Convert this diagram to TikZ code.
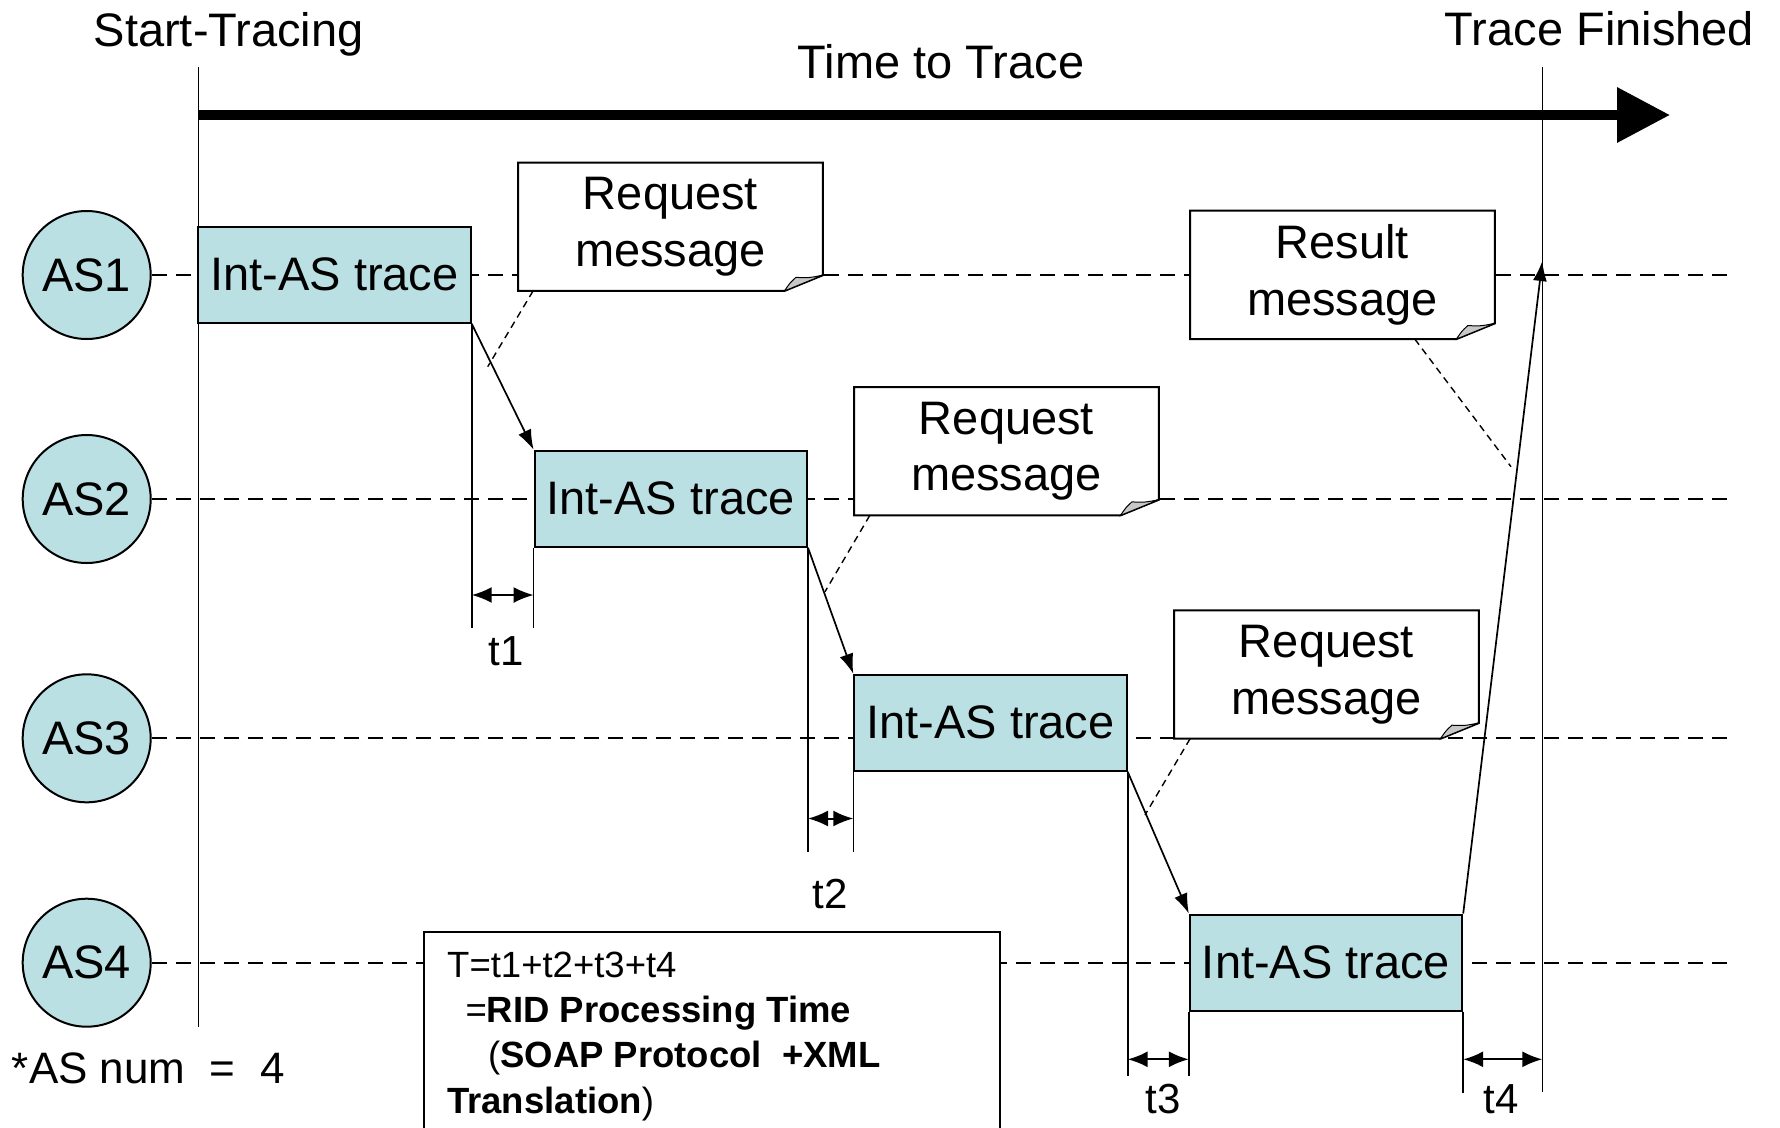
\documentclass[tikz,border=0pt]{standalone}
\usepackage{fontspec}
\setmainfont{Liberation Sans}
\usetikzlibrary{arrows.meta,calc}
\definecolor{asfill}{RGB}{187,224,227}
\definecolor{foldgray}{RGB}{200,200,200}
\pgfdeclarelayer{lanes}
\pgfdeclarelayer{shapes}
\pgfsetlayers{lanes,shapes,main}

% white message box with a turned-down lower right corner
\newcommand{\msgoutline}[1]{%
  \draw[msgedge] (#1.north west) -- (#1.north east) -- ($(#1.south east)+(0,-15.7)$)
    -- ($(#1.south east)+(-38.4,0)$) -- (#1.south west) -- cycle;
  \draw[line width=1pt,fill=foldgray] ($(#1.south east)+(-38.4,0)$)
    .. controls ($(#1.south east)+(-33,-8)$) .. ($(#1.south east)+(-27,-13.5)$)
    .. controls ($(#1.south east)+(-14,-13)$) .. ($(#1.south east)+(0,-15.7)$) -- cycle;
}

\begin{document}
\begin{tikzpicture}[x=1pt,y=-1pt,
  bigfont/.style={font=\fontsize{47}{56.5}\selectfont},
  asnode/.style={circle,draw,line width=2pt,fill=asfill,minimum size=128pt,inner sep=0pt,bigfont},
  tracebox/.style={rectangle,draw,line width=2pt,fill=asfill,minimum width=272.4pt,minimum height=96pt,inner sep=0pt,bigfont},
  msgtext/.style={rectangle,minimum width=304.4pt,minimum height=128pt,inner sep=0pt,align=center,bigfont},
  msgedge/.style={draw,fill=white,line width=2pt,line join=miter},
  lane/.style={dash pattern=on 15pt off 9pt,line width=2pt},
  vline/.style={line width=1.6pt},
  callout/.style={dash pattern=on 7pt off 5pt,line width=1.4pt},
  msgarrow/.style={line width=1.7pt,-{Latex[length=20pt,width=14pt]}},
  span/.style={line width=2pt,{Latex[length=20pt,width=16pt]}-{Latex[length=20pt,width=16pt]}},
  toplabel/.style={bigfont,anchor=base,inner sep=0pt},
  tlabel/.style={font=\fontsize{42}{50}\selectfont,anchor=base,inner sep=0pt},
  notefont/.style={font=\fontsize{36.5}{44}\selectfont,anchor=base west,inner sep=0pt},
]
\useasboundingbox (0,0) rectangle (1780,1127);
\clip (0,0) rectangle (1780,1127);

% autonomous systems
\node[asnode] (as1) at (86.7,275)   {AS1};
\node[asnode] (as2) at (86.7,499)   {AS2};
\node[asnode] (as3) at (86.7,738.3) {AS3};
\node[asnode] (as4) at (86.7,962.7) {AS4};

% trace blocks
\node[tracebox] (tr1) at (334.5,274.7) {Int-AS trace};
\node[tracebox] (tr2) at (670.8,498.7) {Int-AS trace};
\node[tracebox] (tr3) at (990.5,722.8) {Int-AS trace};
\node[tracebox] (tr4) at (1326,962.5)  {Int-AS trace};

% messages
\node[msgtext] (rq1) at (670.5,226.7)  {Request\\message};
\node[msgtext] (rq2) at (1006.5,451.2) {Request\\message};
\node[msgtext] (rq3) at (1326.5,674.5) {Request\\message};
\node[msgtext] (res) at (1342.4,274.9) {Result\\message};

\begin{pgfonlayer}{shapes}
  \msgoutline{rq1}
  \msgoutline{rq2}
  \msgoutline{rq3}
  \msgoutline{res}
\end{pgfonlayer}

% lanes
\coordinate (l1end) at (1735,275);
\coordinate (l2end) at (1735,499);
\coordinate (l3end) at (1735,738.3);
\coordinate (l4end) at (1735,962.7);
\begin{pgfonlayer}{lanes}
  \draw[lane] (as1.east) -- (l1end);
  \draw[lane] (as2.east) -- (l2end);
  \draw[lane] (as3.east) -- (l3end);
  \draw[lane] (as4.east) -- (l4end);
\end{pgfonlayer}

% start / finish markers
\coordinate (stTop) at (198.3,67);
\coordinate (stBot) at (198.3,1026.7);
\coordinate (fnTop) at (1542.3,67);
\coordinate (fnBot) at (1542.3,1091.7);
\draw[vline] (stTop) -- (stBot);
\draw[vline] (fnTop) -- (fnBot);

% time axis
\coordinate (arrS) at (198.3,115);
\coordinate (arrE) at (1670,115);
\draw[line width=10pt,-{Triangle[length=53pt,width=53pt]}] (arrS) -- (arrE);

\node[toplabel] (lstart)  at (228.7,46.7) {Start-Tracing};
\node[toplabel] (lfinish) at (1599.5,45)  {Trace Finished};
\node[toplabel] (ltime)   at (941,78)     {Time to Trace};

% drop lines
\draw[vline] (tr1.south east) -- ++(0,304);
\draw[vline] (tr2.south west) -- ++(0,80);
\draw[vline] (tr2.south east) -- ++(0,304);
\draw[vline] (tr3.south west) -- ++(0,80);
\draw[vline] (tr3.south east) -- ++(0,304.3);
\draw[vline] (tr4.south west) -- ++(0,64.3);
\draw[vline] (tr4.south east) -- ++(0,81);

% processing intervals
\coordinate (ys1) at (0,595);
\coordinate (ys2) at (0,818.5);
\coordinate (ys3) at (0,1059.3);
\draw[span] (tr1.south east |- ys1) -- (tr2.south west |- ys1);
\draw[span] (tr2.south east |- ys2) -- (tr3.south west |- ys2);
\draw[span] (tr3.south east |- ys3) -- (tr4.south west |- ys3);
\draw[span] (tr4.south east |- ys3) -- (fnBot |- ys3);

\node[tlabel] (t1) at (506,665)    {t1};
\node[tlabel] (t2) at (830.5,908)  {t2};
\node[tlabel] (t3) at (1163,1113)  {t3};
\node[tlabel] (t4) at (1501,1113)  {t4};

% message flow
\coordinate (fnHit) at (1542.3,261);
\draw[msgarrow] (tr1.south east) -- (tr2.north west);
\draw[msgarrow] (tr2.south east) -- (tr3.north west);
\draw[msgarrow] (tr3.south east) -- (tr4.north west);
\draw[msgarrow] (tr4.north east) -- (fnHit);

% callout pointers
\coordinate (c1) at (487.7,366.7);
\coordinate (c2) at (825,591.7);
\coordinate (c3) at (1145,815);
\coordinate (cr) at (1511,466.7);
\draw[callout] ($(rq1.south west)+(15,0)$) -- (c1);
\draw[callout] ($(rq2.south west)+(15.7,0)$) -- (c2);
\draw[callout] ($(rq3.south west)+(16,0)$) -- (c3);
\draw[callout] ($(res.south west)+(224.8,0)$) -- (cr);

% summary note
\node[draw,fill=white,line width=2pt,minimum width=576.1pt,minimum height=230pt,
      anchor=north west,inner sep=0pt] (note) at (422.7,930.7) {};
\node[notefont] (n1) at (447,977)      {T=t1+t2+t3+t4};
\node[notefont] (n2) at (465.3,1022.3) {=\textbf{RID Processing Time}};
\node[notefont] (n3) at (488,1067.6)   {(\textbf{SOAP Protocol\ \ +XML}};
\node[notefont] (n4) at (447,1113)     {\textbf{Translation})};

\node[font=\fontsize{44}{50}\selectfont,anchor=base west,inner sep=0pt] (asnum)
  at (11.7,1083.3) {*AS num\ \ =\ \ 4};
\end{tikzpicture}
\end{document}
